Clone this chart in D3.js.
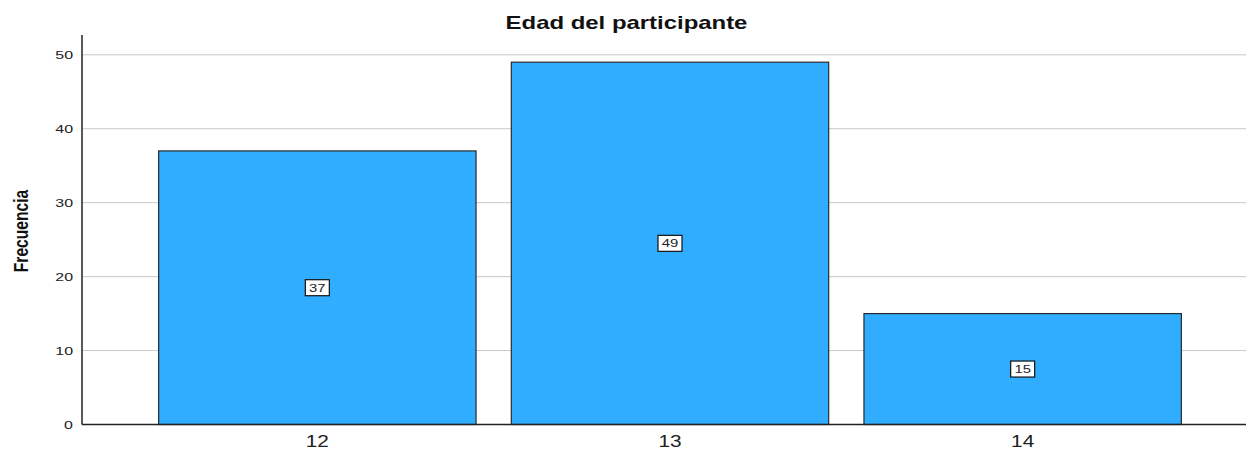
<!DOCTYPE html>
<html>
<head>
<meta charset="utf-8">
<script src="https://cdn.jsdelivr.net/npm/d3@7"></script>
<style>
  html, body { margin: 0; padding: 0; background: #fff; }
  svg { display: block; font-family: Arial, "Liberation Sans", sans-serif; }
</style>
</head>
<body>
<div id="chart"></div>
<script>
// datos del gráfico
const categories = ["12", "13", "14"];
const counts = [37, 49, 15];
const yTicks = [0, 10, 20, 30, 40, 50];
const title = "Edad del participante";
const yLabel = "Frecuencia";

const width = 1246, height = 451;
const plot = { left: 82, right: 1246, top: 35, bottom: 424.5 };

const svg = d3.select("#chart").append("svg")
    .attr("width", width)
    .attr("height", height);

const x = d3.scaleBand()
    .domain(categories)
    .range([141, 1199])
    .paddingInner(0.1)
    .paddingOuter(0.05);

const y = d3.scaleLinear()
    .domain([0, 50])
    .range([plot.bottom, 54.8]);

// líneas de cuadrícula
svg.append("g")
    .selectAll("line")
    .data(yTicks.filter(d => d > 0))
    .join("line")
    .attr("x1", plot.left)
    .attr("x2", plot.right)
    .attr("y1", d => y(d))
    .attr("y2", d => y(d))
    .attr("stroke", "#c8c8c8")
    .attr("stroke-width", 1);

// barras
svg.append("g")
    .selectAll("rect")
    .data(categories)
    .join("rect")
    .attr("x", d => x(d))
    .attr("y", (d, i) => y(counts[i]))
    .attr("width", x.bandwidth())
    .attr("height", (d, i) => y(0) - y(counts[i]))
    .attr("fill", "#31adff")
    .attr("stroke", "#2a2a2a")
    .attr("stroke-width", 1.2);

// ejes
svg.append("line")
    .attr("x1", plot.left).attr("x2", plot.left)
    .attr("y1", plot.top).attr("y2", plot.bottom)
    .attr("stroke", "#222").attr("stroke-width", 1.5);
svg.append("line")
    .attr("x1", plot.left).attr("x2", plot.right)
    .attr("y1", plot.bottom).attr("y2", plot.bottom)
    .attr("stroke", "#222").attr("stroke-width", 1.5);

// etiquetas del eje y (texto ensanchado como en SPSS)
svg.append("g")
    .selectAll("text")
    .data(yTicks)
    .join("text")
    .attr("transform", d => `translate(73,${y(d) + 4}) scale(1.45,1)`)
    .attr("text-anchor", "end")
    .attr("font-size", 11)
    .attr("fill", "#222")
    .text(d => d);

// etiquetas del eje x
svg.append("g")
    .selectAll("text")
    .data(categories)
    .join("text")
    .attr("transform", d => `translate(${x(d) + x.bandwidth() / 2},446.5) scale(1.3,1)`)
    .attr("text-anchor", "middle")
    .attr("font-size", 16)
    .attr("fill", "#222")
    .text(d => d);

// etiquetas de valor con recuadro
const lab = svg.append("g")
    .selectAll("g")
    .data(categories)
    .join("g")
    .attr("transform", (d, i) => `translate(${x(d) + x.bandwidth() / 2},${(y(0) + y(counts[i])) / 2})`);
lab.append("rect")
    .attr("x", -12).attr("y", -8)
    .attr("width", 24).attr("height", 16)
    .attr("fill", "#fff")
    .attr("stroke", "#111")
    .attr("stroke-width", 1.2);
lab.append("text")
    .attr("transform", "translate(0,4) scale(1.35,1)")
    .attr("text-anchor", "middle")
    .attr("font-size", 11)
    .attr("fill", "#222")
    .text((d, i) => counts[i]);

// título
svg.append("text")
    .attr("transform", "translate(626.5,29.3) scale(1.33,1)")
    .attr("text-anchor", "middle")
    .attr("font-size", 18)
    .attr("font-weight", "bold")
    .attr("fill", "#111")
    .text(title);

// título del eje y
svg.append("text")
    .attr("transform", "translate(27.5,231) rotate(-90) scale(0.78,1)")
    .attr("text-anchor", "middle")
    .attr("font-size", 20)
    .attr("font-weight", "bold")
    .attr("fill", "#111")
    .text(yLabel);
</script>
</body>
</html>
